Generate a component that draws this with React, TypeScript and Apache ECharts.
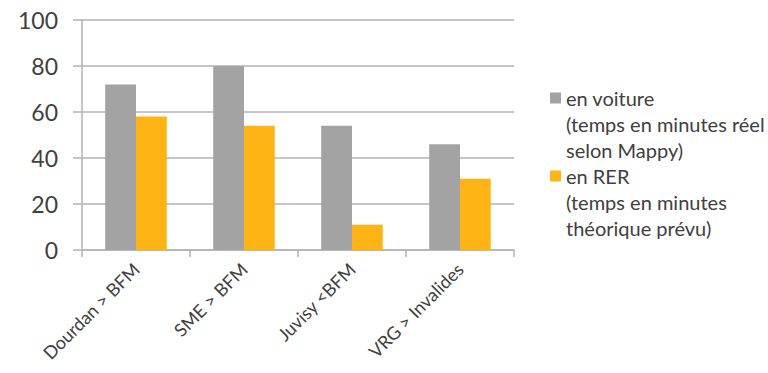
import React, { useEffect, useRef } from "react";
import * as echarts from "echarts";

const categories = ["Dourdan > BFM", "SME > BFM", "Juvisy <BFM", "VRG > Invalides"];
const voitureValues = [72, 80, 54, 46];
const rerValues = [58, 54, 11, 31];
const seriesNames = [
  "en voiture\n(temps en minutes réel\nselon Mappy)",
  "en RER\n(temps en minutes\nthéorique prévu)",
];
const yTicks = { min: 0, max: 100, interval: 20 };

const FONT = "Lato, 'Open Sans', sans-serif";
const TEXT = "#404040";
const LINE = "#b3b3b3";
const GRAY = "#a3a3a3";
const ORANGE = "#ffb415";

export default function App() {
  const ref = useRef<HTMLDivElement>(null);
  useEffect(() => {
    if (!ref.current) return;
    const chart = echarts.init(ref.current, undefined, { renderer: "svg" });
    const lh = 26;
    const legendCommon = {
      orient: "vertical" as const,
      itemWidth: 11,
      itemHeight: 11,
      itemGap: 0,
      icon: "rect",
      selectedMode: false,
      itemStyle: { borderWidth: 0 },
      formatter: (name: string) => "\n\n" + name,
      textStyle: {
        fontFamily: FONT,
        fontSize: 20,
        color: TEXT,
        lineHeight: lh,
      },
    };
    chart.setOption({
      animation: false,
      textStyle: { fontFamily: FONT },
      grid: {
        left: 82,
        right: 254,
        top: 20,
        bottom: 123,
        containLabel: false,
        outerBoundsMode: "none",
      },
      legend: [
        { ...legendCommon, data: [seriesNames[0]], left: 545, top: 93 - lh * 2.5 },
        { ...legendCommon, data: [seriesNames[1]], left: 545, top: 171 - lh * 2.5 },
      ],
      xAxis: {
        type: "category",
        data: categories,
        axisLine: { show: true, lineStyle: { color: LINE, width: 1.5 } },
        axisTick: { show: true, length: 7, lineStyle: { color: LINE, width: 1.5 } },
        axisLabel: {
          rotate: 45,
          interval: 0,
          fontFamily: FONT,
          fontSize: 18,
          color: TEXT,
          margin: 16,
        },
      },
      yAxis: {
        type: "value",
        min: yTicks.min,
        max: yTicks.max,
        interval: yTicks.interval,
        axisLine: { show: true, lineStyle: { color: LINE, width: 1.5 } },
        axisTick: { show: true, length: 9, lineStyle: { color: LINE, width: 1.5 } },
        splitLine: { show: true, lineStyle: { color: LINE, width: 1.5 } },
        axisLabel: { fontFamily: FONT, fontSize: 23, color: TEXT, margin: 24 },
      },
      series: [
        {
          name: seriesNames[0],
          type: "bar",
          data: voitureValues,
          itemStyle: { color: GRAY },
          barGap: "0%",
          barCategoryGap: "43%",
        },
        {
          name: seriesNames[1],
          type: "bar",
          data: rerValues,
          itemStyle: { color: ORANGE },
          barGap: "0%",
          barCategoryGap: "43%",
        },
      ],
    });
    return () => chart.dispose();
  }, []);
  return <div ref={ref} style={{ width: 768, height: 373, position: "absolute", left: 0, top: 0 }} />;
}
